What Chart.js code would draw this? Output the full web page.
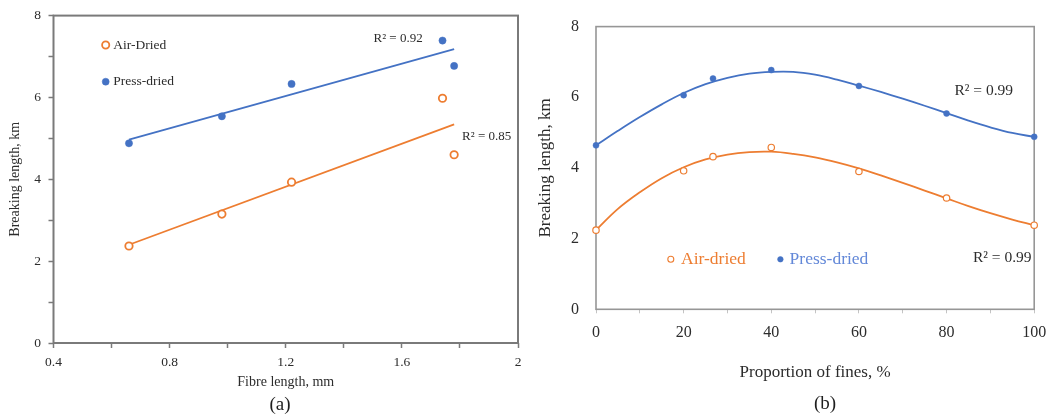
<!DOCTYPE html>
<html>
<head>
<meta charset="utf-8">
<title>Breaking length of air-dried and press-dried sheets</title>
<script src="https://cdn.jsdelivr.net/npm/chart.js@4/dist/chart.umd.min.js"></script>
<style>
  html, body { margin: 0; padding: 0; background: #ffffff; }
  #wrap { position: relative; width: 1056px; height: 416px; overflow: hidden; background: #ffffff; }
  canvas { position: absolute; top: 0; }
  #fig-a { left: 0; }
  #fig-b { left: 530px; }
</style>
</head>
<body>
<div id="wrap">
  <canvas id="fig-a" width="530" height="416"></canvas>
  <canvas id="fig-b" width="526" height="416"></canvas>
</div>
<script>
// ---- (a) breaking length vs. fibre length ----
const fibreLength = [0.66, 0.98, 1.22, 1.74, 1.78];
const airDriedByLength = [2.37, 3.15, 3.93, 5.98, 4.60];
const pressDriedByLength = [4.88, 5.54, 6.33, 7.39, 6.77];
// linear trend lines (end points)
const lengthFitEnds = [0.66, 1.78];
const airDriedLengthFit = [2.40, 5.34];
const pressDriedLengthFit = [4.97, 7.18];
const lengthTicks = [0.4, 0.6, 0.8, 1.0, 1.2, 1.4, 1.6, 1.8, 2.0];
const lengthTickLabels = ['0.4', '', '0.8', '', '1.2', '', '1.6', '', '2'];
const kmTicksA = [0, 1, 2, 3, 4, 5, 6, 7, 8];
const kmTickLabelsA = ['0', '', '2', '', '4', '', '6', '', '8'];

// ---- (b) breaking length vs. proportion of fines ----
const finesPct = [0, 20, 26.7, 40, 60, 80, 100];
const airDriedByFines = [2.24, 3.92, 4.32, 4.58, 3.90, 3.15, 2.38];
const pressDriedByFines = [4.64, 6.06, 6.53, 6.77, 6.32, 5.54, 4.88];
// polynomial trend curves, sampled every 5 %
const finesCurvePct = [0, 5, 10, 15, 20, 25, 30, 35, 40, 45, 50, 55, 60, 65, 70, 75, 80, 85, 90, 95, 100];
const airDriedFinesFit = [2.24, 2.84, 3.31, 3.71, 4.02, 4.24, 4.38, 4.45, 4.46, 4.40, 4.30, 4.16, 3.99, 3.79, 3.58, 3.36, 3.14, 2.92, 2.72, 2.54, 2.38];
const pressDriedFinesFit = [4.64, 5.05, 5.44, 5.80, 6.12, 6.37, 6.55, 6.67, 6.72, 6.72, 6.64, 6.50, 6.33, 6.15, 5.96, 5.76, 5.55, 5.34, 5.15, 4.99, 4.88];
const finesTicks = [0, 10, 20, 30, 40, 50, 60, 70, 80, 90, 100];
const finesTickLabels = ['0', '', '20', '', '40', '', '60', '', '80', '', '100'];
const kmTicksB = [0, 2, 4, 6, 8];
const kmTickLabelsB = ['0', '2', '4', '6', '8'];

const SERIF = "'Liberation Serif', 'Times New Roman', Times, serif";
const ORANGE = '#ED7D31';
const BLUE = '#4472C4';
const TEXT = '#2c2c2c';

const pts = (xs, ys) => xs.map((x, i) => ({ x: x, y: ys[i] }));

// plot frame drawn round the chart area
const plotFrame = {
  id: 'plotFrame',
  beforeDatasetsDraw(chart, args, opts) {
    const a = chart.chartArea, ctx = chart.ctx;
    ctx.save();
    ctx.strokeStyle = opts.color;
    ctx.lineWidth = opts.width;
    ctx.strokeRect(a.left, a.top, a.right - a.left, a.bottom - a.top);
    ctx.restore();
  }
};

// in-plot legend, R² notes and panel caption
const panelText = {
  id: 'panelText',
  afterDraw(chart, args, opts) {
    const ctx = chart.ctx;
    const xs = chart.scales.x, ys = chart.scales.y;
    ctx.save();
    ctx.textBaseline = 'middle';
    (opts.legend || []).forEach(item => {
      const ds = chart.data.datasets[item.dataset];
      ctx.beginPath();
      ctx.arc(item.x, item.y, item.r, 0, Math.PI * 2);
      ctx.fillStyle = ds.pointBackgroundColor;
      ctx.fill();
      ctx.lineWidth = item.lineWidth;
      ctx.strokeStyle = ds.pointBorderColor;
      ctx.stroke();
      ctx.fillStyle = item.color;
      ctx.font = item.size + 'px ' + SERIF;
      ctx.textAlign = 'left';
      ctx.fillText(ds.label, item.x + item.gap, item.y);
    });
    (opts.notes || []).forEach(n => {
      ctx.fillStyle = TEXT;
      ctx.font = n.size + 'px ' + SERIF;
      ctx.textAlign = 'center';
      ctx.fillText(n.text, xs.getPixelForValue(n.x), ys.getPixelForValue(n.y));
    });
    if (opts.caption) {
      const c = opts.caption;
      ctx.fillStyle = '#1e1e1e';
      ctx.font = c.size + 'px ' + SERIF;
      ctx.textAlign = 'center';
      ctx.fillText(c.text, c.x, c.y);
    }
    ctx.restore();
  }
};

Chart.register(plotFrame, panelText);

function fixedTicks(values) {
  return scale => { scale.ticks = values.map(v => ({ value: v })); };
}

// ---------- panel (a) ----------
new Chart(document.getElementById('fig-a'), {
  type: 'scatter',
  data: {
    datasets: [
      { label: 'Air-Dried', data: pts(fibreLength, airDriedByLength),
        pointRadius: 3.7, pointBorderWidth: 1.8, pointBorderColor: ORANGE, pointBackgroundColor: '#ffffff', clip: false },
      { label: 'Press-dried', data: pts(fibreLength, pressDriedByLength),
        pointRadius: 3.6, pointBorderWidth: 0.5, pointBorderColor: BLUE, pointBackgroundColor: BLUE, clip: false },
      { label: 'Air-Dried trend', data: pts(lengthFitEnds, airDriedLengthFit),
        showLine: true, pointRadius: 0, borderColor: ORANGE, borderWidth: 1.8 },
      { label: 'Press-dried trend', data: pts(lengthFitEnds, pressDriedLengthFit),
        showLine: true, pointRadius: 0, borderColor: BLUE, borderWidth: 1.8 }
    ]
  },
  options: {
    responsive: false,
    animation: false,
    devicePixelRatio: 1,
    events: [],
    layout: { padding: { left: 0, top: 15, right: 12, bottom: 0 } },
    scales: {
      x: {
        type: 'linear', min: 0.4, max: 2,
        afterBuildTicks: fixedTicks(lengthTicks),
        afterFit: s => { s.height = 73; },
        ticks: { autoSkip: false, maxRotation: 0, padding: 6.6, color: TEXT,
                 font: { family: SERIF, size: 13.5 },
                 callback: (v, i) => lengthTickLabels[i] },
        grid: { drawOnChartArea: false, drawTicks: true, tickLength: 5, color: '#7a7a7a', tickWidth: 1.5 },
        border: { display: false },
        title: { display: true, text: 'Fibre length, mm', color: TEXT,
                 font: { family: SERIF, size: 14 }, padding: { top: 0, bottom: 25.1 } }
      },
      y: {
        type: 'linear', min: 0, max: 8,
        afterBuildTicks: fixedTicks(kmTicksA),
        afterFit: s => { s.width = 53.5; },
        ticks: { autoSkip: false, padding: 7.5, color: TEXT,
                 font: { family: SERIF, size: 13.5 },
                 callback: (v, i) => kmTickLabelsA[i] },
        grid: { drawOnChartArea: false, drawTicks: true, tickLength: 5, color: '#7a7a7a', tickWidth: 1.5 },
        border: { display: false },
        title: { display: true, text: 'Breaking length, km', color: TEXT,
                 font: { family: SERIF, size: 14 }, padding: { top: 6.6, bottom: 0 } }
      }
    },
    plugins: {
      legend: { display: false },
      tooltip: { enabled: false },
      plotFrame: { color: '#7a7a7a', width: 2 },
      panelText: {
        legend: [
          { dataset: 0, x: 105.7, y: 45, r: 3.6, lineWidth: 1.8, gap: 7.6, size: 13.5, color: TEXT },
          { dataset: 1, x: 105.7, y: 81.7, r: 3.5, lineWidth: 0.5, gap: 7.6, size: 13.5, color: TEXT }
        ],
        notes: [
          { text: 'R² = 0.92', x: 1.587, y: 7.45, size: 13 },
          { text: 'R² = 0.85', x: 1.892, y: 5.05, size: 13 }
        ],
        caption: { text: '(a)', x: 280, y: 405, size: 19 }
      }
    }
  }
});

// ---------- panel (b) ----------
new Chart(document.getElementById('fig-b'), {
  type: 'scatter',
  data: {
    datasets: [
      { label: 'Air-dried', data: pts(finesPct, airDriedByFines),
        pointRadius: 3.2, pointBorderWidth: 1.2, pointBorderColor: ORANGE, pointBackgroundColor: '#ffffff', clip: false },
      { label: 'Press-dried', data: pts(finesPct, pressDriedByFines),
        pointRadius: 3, pointBorderWidth: 0.5, pointBorderColor: BLUE, pointBackgroundColor: BLUE, clip: false },
      { label: 'Air-dried trend', data: pts(finesCurvePct, airDriedFinesFit),
        showLine: true, pointRadius: 0, borderColor: ORANGE, borderWidth: 1.8,
        tension: 0.4, clip: false },
      { label: 'Press-dried trend', data: pts(finesCurvePct, pressDriedFinesFit),
        showLine: true, pointRadius: 0, borderColor: BLUE, borderWidth: 1.8,
        tension: 0.4, clip: false }
    ]
  },
  options: {
    responsive: false,
    animation: false,
    devicePixelRatio: 1,
    events: [],
    layout: { padding: { left: 0, top: 23.3, right: 16.7, bottom: 0 } },
    scales: {
      x: {
        type: 'linear', min: 0, max: 100,
        afterBuildTicks: fixedTicks(finesTicks),
        afterFit: s => { s.height = 106.7; },
        ticks: { autoSkip: false, maxRotation: 0, padding: 9.8, color: TEXT,
                 font: { family: SERIF, size: 16 },
                 callback: (v, i) => finesTickLabels[i] },
        grid: { drawOnChartArea: false, drawTicks: true, tickLength: 4, color: '#c4c4c4', tickWidth: 1 },
        border: { display: false },
        title: { display: true, text: 'Proportion of fines, %', color: TEXT,
                 font: { family: SERIF, size: 17 }, padding: { top: 0, bottom: 33.1 } }
      },
      y: {
        type: 'linear', min: 0, max: 8,
        afterBuildTicks: fixedTicks(kmTicksB),
        afterFit: s => { s.width = 66; },
        ticks: { autoSkip: false, padding: 17, color: TEXT,
                 font: { family: SERIF, size: 16 },
                 callback: (v, i) => kmTickLabelsB[i] },
        grid: { drawOnChartArea: false, drawTicks: false },
        border: { display: false },
        title: { display: true, text: 'Breaking length, km', color: TEXT,
                 font: { family: SERIF, size: 17 }, padding: { top: 5.4, bottom: 0 } }
      }
    },
    plugins: {
      legend: { display: false },
      tooltip: { enabled: false },
      plotFrame: { color: '#969696', width: 1.6 },
      panelText: {
        legend: [
          { dataset: 0, x: 140.8, y: 259.3, r: 3, lineWidth: 1.1, gap: 10.2, size: 17.5, color: ORANGE },
          { dataset: 1, x: 250.4, y: 259.3, r: 2.8, lineWidth: 0.5, gap: 9.2, size: 17.5, color: '#6388d8' }
        ],
        notes: [
          { text: 'R² = 0.99', x: 88.5, y: 6.18, size: 15.5 },
          { text: 'R² = 0.99', x: 92.7, y: 1.46, size: 15.5 }
        ],
        caption: { text: '(b)', x: 295, y: 404, size: 19 }
      }
    }
  }
});
</script>
</body>
</html>
